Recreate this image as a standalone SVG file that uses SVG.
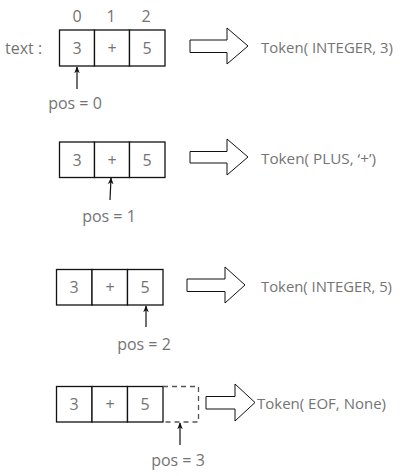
<svg xmlns="http://www.w3.org/2000/svg" width="400" height="476" viewBox="0 0 400 476">
<style>
.cell{fill:#fff;stroke:#111;stroke-width:1.3}
.dash{fill:none;stroke:#555;stroke-width:1.3;stroke-dasharray:5,4}
.big{fill:#fff;stroke:#111;stroke-width:1;stroke-linejoin:miter}
.t{font-family:"Open Sans","Liberation Sans",sans-serif;fill:#747474;font-size:16px;dominant-baseline:central}
.tok{font-size:14.5px}
.c{text-anchor:middle}
.ptr{stroke:#111;stroke-width:1.2;fill:none}
</style>
<defs>
<marker id="ah" viewBox="0 0 10 10" refX="9" refY="5" markerWidth="7" markerHeight="7" orient="auto-start-reverse" markerUnits="userSpaceOnUse">
<path d="M0,1 L10,5 L0,9 L3,5 Z" fill="#111"/>
</marker>
</defs>
<g id="labels">
<text class="t" x="5" y="48">text :</text>
<text class="t c" x="77" y="16">0</text>
<text class="t c" x="111" y="16">1</text>
<text class="t c" x="146" y="16">2</text>
</g>
<g id="row1">
<rect class="cell" x="59.5" y="30" width="35" height="36"/>
<rect class="cell" x="94.5" y="30" width="35" height="36"/>
<rect class="cell" x="129.5" y="30" width="35.5" height="36"/>
<text class="t c" x="77" y="48" font-size="18">3</text>
<text class="t c" x="112" y="48">+</text>
<text class="t c" x="147" y="48" font-size="18">5</text>
</g>
<g id="row2">
<rect class="cell" x="59.5" y="142" width="35" height="35.5"/>
<rect class="cell" x="94.5" y="142" width="35" height="35.5"/>
<rect class="cell" x="129.5" y="142" width="35.5" height="35.5"/>
<text class="t c" x="77" y="160" font-size="18">3</text>
<text class="t c" x="112" y="160">+</text>
<text class="t c" x="147" y="160" font-size="18">5</text>
</g>
<g id="row3">
<rect class="cell" x="56.5" y="269.5" width="35.5" height="35.5"/>
<rect class="cell" x="92" y="269.5" width="35.5" height="35.5"/>
<rect class="cell" x="127.5" y="269.5" width="35.5" height="35.5"/>
<text class="t c" x="74" y="287" font-size="18">3</text>
<text class="t c" x="110" y="287">+</text>
<text class="t c" x="145" y="287" font-size="18">5</text>
</g>
<g id="row4">
<rect class="cell" x="56.5" y="386.5" width="35.5" height="35.5"/>
<rect class="cell" x="92" y="386.5" width="35.5" height="35.5"/>
<rect class="cell" x="127.5" y="386.5" width="35.5" height="35.5"/>
<path class="dash" d="M163,386.5 H198.5 V422 H163"/>
<text class="t c" x="74" y="404" font-size="18">3</text>
<text class="t c" x="110" y="404">+</text>
<text class="t c" x="145" y="404" font-size="18">5</text>
</g>
<g id="tokens">
<text class="t tok" x="261" y="47" textLength="132" lengthAdjust="spacingAndGlyphs">Token( INTEGER, 3)</text>
<text class="t tok" x="261" y="158" textLength="115" lengthAdjust="spacingAndGlyphs">Token( PLUS, ‘+’)</text>
<text class="t tok" x="261" y="286" textLength="131" lengthAdjust="spacingAndGlyphs">Token( INTEGER, 5)</text>
<text class="t tok" x="257" y="403" textLength="129" lengthAdjust="spacingAndGlyphs">Token( EOF, None)</text>
</g>
<g id="connectors">
<path class="big" d="M190,40 H227 V28 L248,46 L227,64 V52.5 H190 Z"/>
<path class="big" d="M190,151.5 H227 V139 L248,157 L227,175 V163 H190 Z"/>
<path class="big" d="M187,279 H225 V267 L245,285 L225,303 V291.5 H187 Z"/>
<path class="big" d="M206,396.5 H235 V384 L255,402.5 L235,421 V409 H206 Z"/>
<line class="ptr" x1="77" y1="89" x2="77" y2="67" marker-end="url(#ah)"/>
<line class="ptr" x1="110" y1="200" x2="111" y2="178" marker-end="url(#ah)"/>
<line class="ptr" x1="146" y1="327" x2="146" y2="306" marker-end="url(#ah)"/>
<line class="ptr" x1="180" y1="445" x2="180" y2="423" marker-end="url(#ah)"/>
</g>
<g id="pos">
<text class="t c" x="75" y="103">pos = 0</text>
<text class="t c" x="109" y="216">pos = 1</text>
<text class="t c" x="144" y="344">pos = 2</text>
<text class="t c" x="178" y="460">pos = 3</text>
</g>
</svg>
